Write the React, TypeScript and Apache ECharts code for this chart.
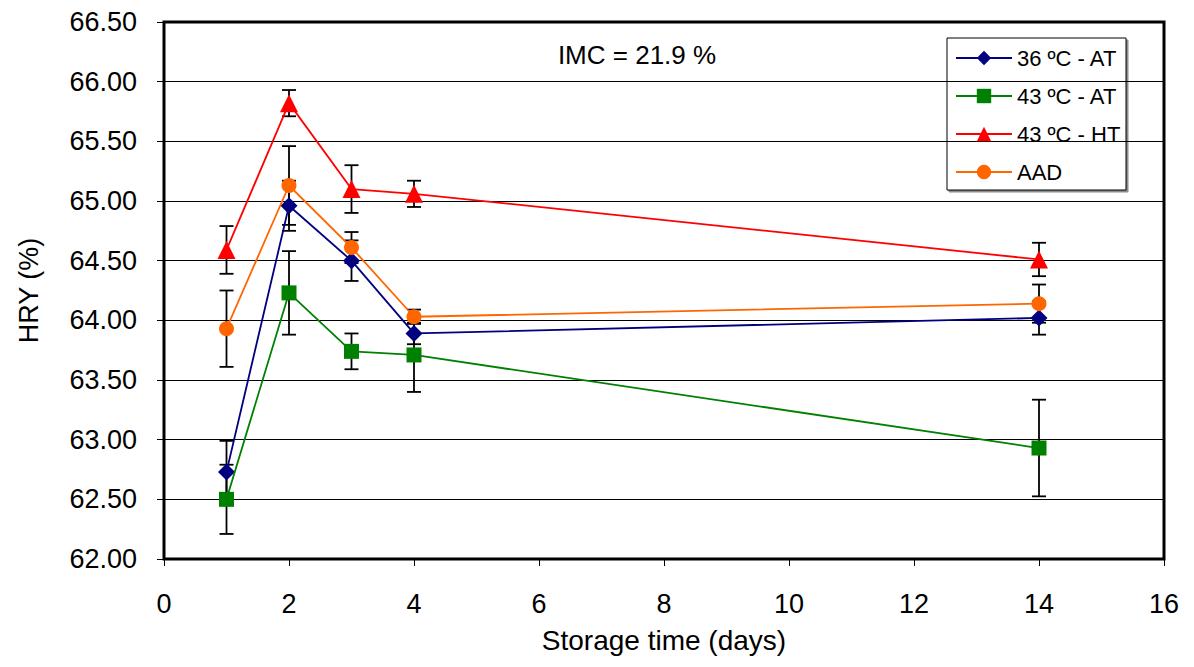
import React, { useEffect, useRef } from "react";
import * as echarts from "echarts";

const days = [1, 2, 3, 4, 14];
const seriesNames = ["36 ºC - AT", "43 ºC - AT", "43 ºC - HT", "AAD"];
const hry36AT = [62.73, 64.96, 64.5, 63.89, 64.02];
const err36AT = [0.26, 0.21, 0.17, 0.09, 0.14];
const hry43AT = [62.5, 64.23, 63.74, 63.71, 62.93];
const err43AT = [0.29, 0.35, 0.15, 0.31, 0.405];
const hry43HT = [64.59, 65.82, 65.1, 65.06, 64.51];
const err43HT = [0.2, 0.11, 0.2, 0.11, 0.14];
const hryAAD = [63.93, 65.13, 64.61, 64.03, 64.14];
const errAAD = [0.32, 0.33, 0.13, 0.06, 0.16];
const yTicks = { min: 62, max: 66.5, step: 0.5 };
const xTicks = { min: 0, max: 16, step: 2 };

const FONT = "'Liberation Sans', Arial, sans-serif";

export default function App() {
  const ref = useRef<HTMLDivElement>(null);

  useEffect(() => {
    if (!ref.current) return;
    const chart = echarts.init(ref.current, null, { renderer: "svg" });

    const values = [hry36AT, hry43AT, hry43HT, hryAAD];
    const errs = [err36AT, err43AT, err43HT, errAAD];
    const colors = ["#000080", "#008000", "#FF0000", "#FF6600"];
    const symbols = ["diamond", "rect", "triangle", "circle"];
    const sizes = [17, 15, 18, 15];

    const errSeries = values.map((vals, si) => ({
      type: "custom",
      name: "err" + si,
      z: 1,
      silent: true,
      data: days.map((d, i) => [d, vals[i] - errs[si][i], vals[i] + errs[si][i]]),
      encode: { x: 0, y: [1, 2] },
      renderItem: (params: any, api: any) => {
        const x = api.value(0);
        const lo = api.coord([x, api.value(1)]);
        const hi = api.coord([x, api.value(2)]);
        const hw = 7;
        const style = { stroke: "#000", lineWidth: 1.8 };
        return {
          type: "group",
          children: [
            { type: "line", shape: { x1: lo[0], y1: lo[1], x2: hi[0], y2: hi[1] }, style },
            { type: "line", shape: { x1: lo[0] - hw, y1: lo[1], x2: lo[0] + hw, y2: lo[1] }, style },
            { type: "line", shape: { x1: hi[0] - hw, y1: hi[1], x2: hi[0] + hw, y2: hi[1] }, style },
          ],
        };
      },
    }));

    const lineSeries = values.map((vals, si) => ({
      type: "line",
      name: seriesNames[si],
      z: 3 + si,
      data: days.map((d, i) => [d, vals[i]]),
      symbol: symbols[si],
      symbolSize: sizes[si],
      lineStyle: { color: colors[si], width: 1.8 },
      itemStyle: { color: colors[si] },
    }));

    chart.setOption({
      animation: false,
      grid: {
        left: 164,
        right: 30,
        top: 22,
        bottom: 108,
        show: true,
        borderColor: "#000",
        borderWidth: 3,
        backgroundColor: "transparent",
      },
      xAxis: {
        type: "value",
        min: xTicks.min,
        max: xTicks.max,
        interval: xTicks.step,
        name: "Storage time (days)",
        nameLocation: "middle",
        nameGap: 67,
        nameTextStyle: { fontSize: 28, color: "#000", fontFamily: FONT },
        axisLine: { show: false },
        axisTick: { show: true, length: 7, lineStyle: { color: "#000" } },
        axisLabel: { fontSize: 27, color: "#000", fontFamily: FONT, margin: 31 },
        splitLine: { show: false },
      },
      yAxis: {
        type: "value",
        min: yTicks.min,
        max: yTicks.max,
        interval: yTicks.step,
        name: "HRY (%)",
        nameLocation: "middle",
        nameGap: 122,
        nameTextStyle: { fontSize: 27, color: "#000", fontFamily: FONT },
        axisLine: { show: false },
        axisTick: { show: true, length: 7, lineStyle: { color: "#000" } },
        axisLabel: {
          fontSize: 27,
          color: "#000",
          fontFamily: FONT,
          margin: 27,
          formatter: (v: number) => v.toFixed(2),
        },
        splitLine: { show: true, lineStyle: { color: "#000", width: 1 } },
      },
      legend: {
        data: seriesNames,
        orient: "vertical",
        left: 950,
        top: 41,
        itemWidth: 56,
        itemHeight: 18,
        itemGap: 14,
        textStyle: { fontSize: 22, color: "#000", fontFamily: FONT, lineHeight: 24 },
      },
      graphic: [
        {
          type: "rect",
          z: 0,
          shape: { x: 947, y: 38, width: 179, height: 152 },
          style: {
            fill: "#fff",
            stroke: "#000",
            lineWidth: 1,
            shadowColor: "rgba(0,0,0,0.45)",
            shadowOffsetX: 2,
            shadowOffsetY: 2,
            shadowBlur: 0,
          },
        },
        {
          type: "text",
          x: 637,
          y: 55,
          style: {
            text: "IMC = 21.9 %",
            fontSize: 26,
            fontFamily: FONT,
            fill: "#000",
            textAlign: "center",
            textVerticalAlign: "middle",
          },
        },
      ],
      series: [...errSeries, ...lineSeries],
    });

    return () => chart.dispose();
  }, []);

  return (
    <div
      ref={ref}
      style={{ position: "fixed", left: 0, top: 0, width: 1194, height: 667, background: "#fff" }}
    />
  );
}
